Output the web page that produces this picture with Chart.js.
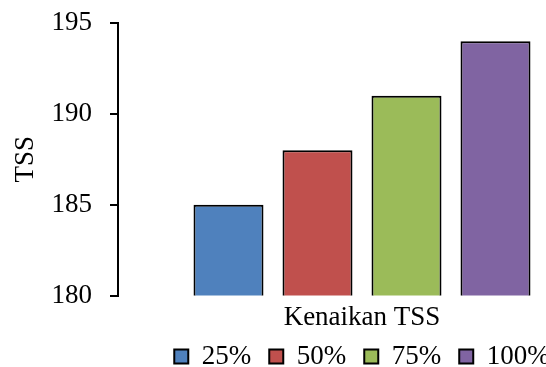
<!DOCTYPE html>
<html>
<head>
<meta charset="utf-8">
<script src="https://cdn.jsdelivr.net/npm/chart.js@4/dist/chart.umd.min.js"></script>
<style>
  html, body { margin: 0; padding: 0; background: #fff; overflow: hidden; }
  #wrap { width: 546px; height: 367px; overflow: hidden; position: relative; }
  canvas { display: block; }
</style>
</head>
<body>
<div id="wrap"><canvas id="c" width="612" height="367"></canvas></div>
<script>
// Category and series
const categories = ['Kenaikan TSS'];
const seriesNames = ['25%', '50%', '75%', '100%'];
const seriesValues = [[185], [188], [191], [194]];
const seriesColors = ['#4F81BD', '#C0504D', '#9BBB59', '#8064A2'];

// Value axis
const yMin = 180;
const yMax = 195;
const yStep = 5;
const yTitle = 'TSS';

const FONT = "'Liberation Serif', 'Times New Roman', serif";

const datasets = seriesNames.map((name, i) => ({
  label: name,
  data: seriesValues[i],
  backgroundColor: seriesColors[i],
  borderColor: '#000',
  borderWidth: 2,
  borderSkipped: false,
  categoryPercentage: 0.7295,
  barPercentage: 0.7865
}));

new Chart(document.getElementById('c'), {
  type: 'bar',
  data: { labels: categories, datasets },
  options: {
    responsive: false,
    animation: false,
    devicePixelRatio: 1,
    layout: { padding: { top: 23, right: 6, bottom: -13, left: 0 } },
    plugins: {
      tooltip: { enabled: false },
      legend: {
        position: 'bottom',
        fullSize: false,
        labels: {
          color: '#000',
          font: { family: FONT, size: 27 },
          boxWidth: 14,
          boxHeight: 14,
          padding: 18
        }
      }
    },
    scales: {
      x: {
        afterFit: (s) => { s.height -= 15; },
        grid: { display: false, drawTicks: false },
        border: { display: false },
        ticks: {
          color: '#000',
          font: { family: FONT, size: 27 },
          padding: 6
        }
      },
      y: {
        min: yMin,
        max: yMax,
        afterFit: (s) => {
          s.width = 118;
          s.paddingTop = 0;
          s.paddingBottom = 0;
        },
        title: {
          display: true,
          text: yTitle,
          color: '#000',
          font: { family: FONT, size: 27 },
          padding: { top: 10, bottom: 0 }
        },
        grid: {
          drawOnChartArea: false,
          drawTicks: true,
          tickLength: 8,
          color: '#000',
          lineWidth: 2
        },
        border: { display: true, color: '#000', width: 2 },
        ticks: {
          stepSize: yStep,
          color: '#000',
          font: { family: FONT, size: 27 },
          padding: 18
        }
      }
    }
  }
});
</script>
</body>
</html>
